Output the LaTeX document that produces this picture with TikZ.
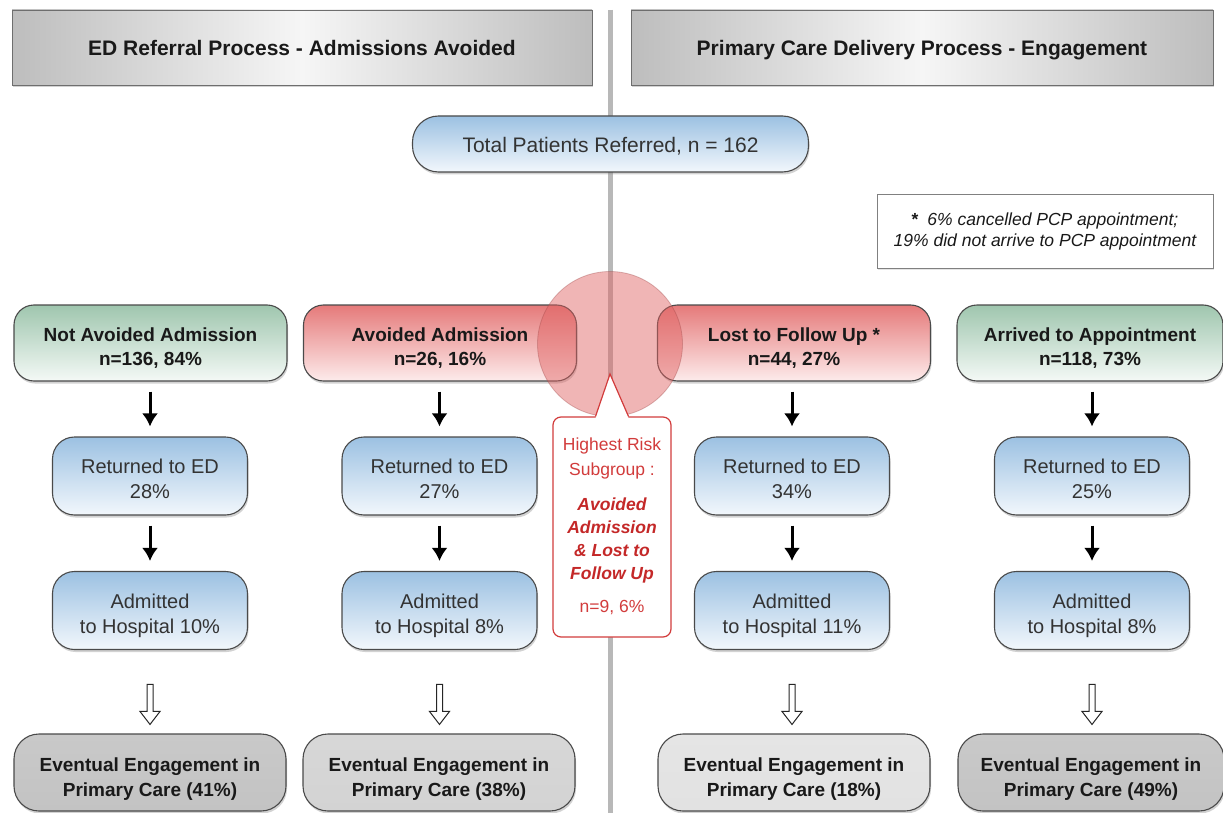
\documentclass[tikz,border=0pt]{standalone}
\usepackage{fontspec}
\setmainfont{Liberation Sans}
\usetikzlibrary{shadows,calc,arrows.meta}
\definecolor{bordergray}{HTML}{4A4A4A}
\definecolor{hdrdark}{HTML}{BDBDBD}
\definecolor{hdrlight}{HTML}{F6F6F6}
\definecolor{greentop}{HTML}{9FC6AE}
\definecolor{greenbot}{HTML}{F4F9F6}
\definecolor{redtop}{HTML}{E57A7A}
\definecolor{redbot}{HTML}{FDEBEB}
\definecolor{bluetop}{HTML}{9CC1E2}
\definecolor{bluebot}{HTML}{F2F7FC}
\definecolor{textgray}{HTML}{333333}
\definecolor{divgray}{HTML}{B8B8B8}
\definecolor{circred}{HTML}{E06262}
\definecolor{calred}{HTML}{D23C3C}
\definecolor{caltext}{HTML}{C42828}
\definecolor{engA}{HTML}{C3C3C3}
\definecolor{engB}{HTML}{D3D3D3}
\definecolor{engC}{HTML}{E2E2E2}
\begin{document}
\begin{tikzpicture}[x=1pt,y=1pt,
  shad/.style={drop shadow={opacity=0.35,shadow xshift=1pt,shadow yshift=-2.5pt}},
  hdr/.style={draw=bordergray!80, line width=0.9pt, left color=hdrdark, right color=hdrdark, middle color=hdrlight,
    minimum height=75pt, inner sep=0pt, text height=20pt, text depth=4pt, font=\fontsize{21}{25}\selectfont\bfseries, text=black!90, shad},
  lvl/.style={rounded corners=20pt, draw=bordergray, line width=1.1pt, minimum height=76pt, minimum width=273pt,
    inner sep=0pt, text height=48pt, text depth=4pt, align=center, font=\fontsize{19}{24}\selectfont\bfseries, text=black!90, shad},
  greenbox/.style={lvl, top color=greentop, bottom color=greenbot},
  redbox/.style={lvl, top color=redtop, bottom color=redbot},
  bluebox/.style={rounded corners=22pt, draw=bordergray, line width=1.1pt, minimum height=78pt, minimum width=195pt,
    inner sep=0pt, text height=49pt, text depth=4pt, align=center, font=\fontsize{20}{25}\selectfont, text=textgray, top color=bluetop, bottom color=bluebot, shad},
  engbox/.style={rounded corners=25pt, draw=bordergray, line width=1.1pt, minimum height=77pt, minimum width=272pt,
    inner sep=0pt, text height=51pt, text depth=4pt, align=center, font=\fontsize{19}{25}\selectfont\bfseries, text=black!90, shad},
  blk/.style={line width=3pt, black, -{Latex[length=13pt,width=16pt]}, shorten <=10pt, shorten >=10pt},
  hollow/.style={draw=black!85, line width=1pt, fill=white, line join=miter},
  calltxt/.style={text=calred, align=center, inner sep=0pt, font=\fontsize{17.5}{25}\selectfont}
]
\useasboundingbox (0,0) rectangle (1223,-813);
\fill[white] (0,0) rectangle (1223,-813);

% divider
\coordinate (dtop) at (610,-10);
\coordinate (dbot) at (610,-813);
\draw[divgray, line width=5pt] (dtop) -- (dbot);

% headers
\node[hdr, minimum width=580pt] (h1) at (302,-47.5) {ED Referral Process - Admissions Avoided};
\node[hdr, minimum width=582pt] (h2) at (922,-47.5) {Primary Care Delivery Process - Engagement};

% total
\node[rounded corners=26pt, draw=bordergray, line width=1.1pt, minimum width=396pt, minimum height=56pt, inner sep=0pt,
  text height=21pt, text depth=4pt,
  top color=bluetop, bottom color=bluebot, font=\fontsize{21}{25}\selectfont, text=textgray, shad] (tot) at (610.5,-144) {Total Patients Referred, n = 162};

% note
\node[draw=black!50, line width=0.9pt, fill=white, minimum width=336pt, minimum height=74pt, inner sep=0pt, align=center,
  font=\fontsize{17.5}{21}\selectfont\itshape, text=black!90, drop shadow={opacity=0.2,shadow xshift=1pt,shadow yshift=-1.5pt}] (note) at (1045,-231)
  {{\upshape\bfseries *}\hspace{9pt}6\% cancelled PCP appointment;\\19\% did not arrive to PCP appointment};

% level 1
\node[greenbox] (na) at (150.5,-343) {Not Avoided Admission\\n=136, 84\%};
\node[redbox] (aa) at (440,-343) {Avoided Admission\\n=26, 16\%};
\node[redbox] (lf) at (794,-343) {Lost to Follow Up *\\n=44, 27\%};
\node[greenbox, minimum width=266pt] (ar) at (1090,-343) {Arrived to Appointment\\n=118, 73\%};

% returned
\node[bluebox] (r1) at (150,-476) {Returned to ED\\28\%};
\node[bluebox] (r2) at (439.5,-476) {Returned to ED\\27\%};
\node[bluebox] (r3) at (792,-476) {Returned to ED\\34\%};
\node[bluebox] (r4) at (1092,-476) {Returned to ED\\25\%};

% admitted
\node[bluebox] (a1) at (150,-610.5) {Admitted\\to Hospital 10\%};
\node[bluebox] (a2) at (439.5,-610.5) {Admitted\\to Hospital 8\%};
\node[bluebox] (a3) at (792,-610.5) {Admitted\\to Hospital 11\%};
\node[bluebox] (a4) at (1092,-610.5) {Admitted\\to Hospital 8\%};

% eventual
\node[engbox, top color=engA!90, bottom color=engA] (e1) at (150,-772.5) {Eventual Engagement in\\Primary Care (41\%)};
\node[engbox, top color=engB!90, bottom color=engB] (e2) at (439,-772.5) {Eventual Engagement in\\Primary Care (38\%)};
\node[engbox, top color=engC!90, bottom color=engC] (e3) at (794,-772.5) {Eventual Engagement in\\Primary Care (18\%)};
\node[engbox, top color=engA!90, bottom color=engA, minimum width=266pt] (e4) at (1091,-772.5) {Eventual Engagement in\\Primary Care (49\%)};

% black arrows
\draw[blk] (na.south -| r1.north) -- (r1.north);
\draw[blk] (aa.south -| r2.north) -- (r2.north);
\draw[blk] (lf.south -| r3.north) -- (r3.north);
\draw[blk] (ar.south -| r4.north) -- (r4.north);
\draw[blk] (r1.south) -- (a1.north);
\draw[blk] (r2.south) -- (a2.north);
\draw[blk] (r3.south) -- (a3.north);
\draw[blk] (r4.south) -- (a4.north);

% hollow arrows
\foreach \a/\e in {a1/e1,a2/e2,a3/e3,a4/e4}{
  \coordinate (t\e) at ($(\a.south |- \e.north)+(0,9)$);
  \draw[hollow] (t\e) -- ++(-10,13) -- ++(7,0) -- ++(0,27) -- ++(6,0) -- ++(0,-27) -- ++(7,0) -- cycle;
}

% highlight circle
\node[circle, minimum size=145pt, inner sep=0pt, fill=circred, fill opacity=0.47, draw=circred!70!black, draw opacity=0.35, line width=0.8pt] (hot) at (610,-344) {};

% callout
\node[rounded corners=8pt, draw=calred, line width=1.2pt, fill=white, minimum width=118pt, minimum height=220pt, inner sep=0pt] (cb) at (612,-527) {};
\coordinate (ptip) at ($(hot.center)+(0,-30)$);
\fill[white] ($(cb.north)+(-16.5,-1.6)$) -- (ptip) -- ($(cb.north)+(16.5,-1.6)$) -- cycle;
\draw[calred, line width=1.2pt, line join=miter] ($(cb.north)+(-16.5,0)$) -- (ptip) -- ($(cb.north)+(16.5,0)$);

\node[calltxt] (ct1) at (612,-458) {Highest Risk\\Subgroup :};
\node[calltxt, text=caltext, font=\fontsize{17.5}{22.7}\selectfont\bfseries\itshape] (ct2) at (612,-540.5) {Avoided\\Admission\\\&~Lost to\\Follow Up};
\node[calltxt] (ct3) at (612,-608) {n=9, 6\%};
\end{tikzpicture}
\end{document}
